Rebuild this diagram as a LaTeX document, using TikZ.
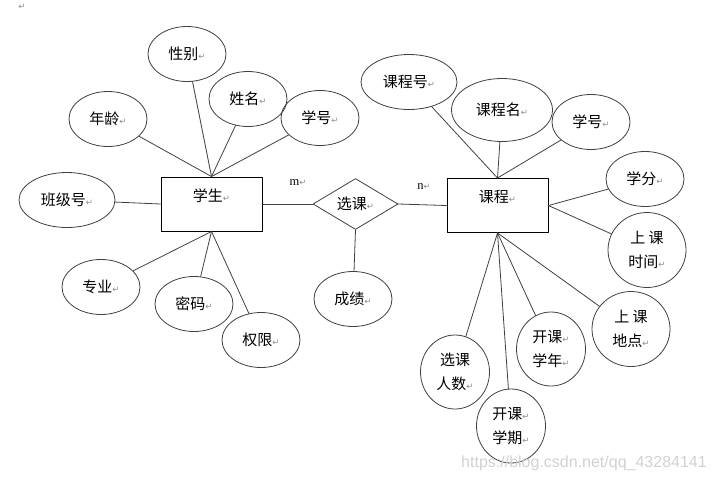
\documentclass[tikz,border=0pt]{standalone}
\usepackage{fontspec}
\newfontfamily\cjk{Noto Sans CJK SC}
\newfontfamily\symb{DejaVu Sans}
\newfontfamily\serifm{Liberation Serif}
\usetikzlibrary{shapes.geometric}
\newcommand{\ret}{{\symb\fontsize{8.5}{8.5}\selectfont\color{black!45}↵}}

\begin{document}
\begin{tikzpicture}[x=1pt, y=-1pt, line cap=round, line join=round,
    attr/.style={ellipse, draw=black!75, line width=0.8pt, inner sep=0pt,
      minimum width=78pt, minimum height=55pt, align=center,
      font=\cjk\fontsize{15}{24}\selectfont},
    ent/.style={rectangle, draw=black, line width=0.9pt, inner sep=0pt,
      minimum width=101pt, minimum height=54pt, text height=11pt, text depth=17pt,
      font=\cjk\fontsize{15}{18}\selectfont},
    rel/.style={diamond, draw=black!75, line width=0.8pt, inner sep=0pt,
      minimum width=85pt, minimum height=51pt, font=\cjk\fontsize{15}{18}\selectfont},
    card/.style={inner sep=0pt, font=\serifm\fontsize{12.5}{12.5}\selectfont},
    every edge/.append style={draw=black!75, line width=0.8pt}] % pixel units
  \useasboundingbox (0,0) rectangle (714,480);
  \node[inner sep=0pt] (mark) at (22,7) {\ret};

  % entities and relation
  \node[ent] (stu) at (211.5,204) {学生\ret};
  \node[ent] (crs) at (497.5,205.5) {课程\ret};
  \node[rel] (sel) at (355.5,204) {选课\ret};
  \node[card] (m) at (298,183) {m\ret};
  \node[card] (n) at (424,187) {n\ret};

  % student attributes
  \node[attr] (sex) at (187,54) {性别\ret};
  \node[attr] (age) at (108,119) {年龄\ret};
  \node[attr] (name) at (248,99) {姓名\ret};
  \node[attr] (sno) at (320,118) {学号\ret};
  \node[attr, minimum width=96pt] (cls) at (67,200) {班级号\ret};
  \node[attr] (major) at (101,287) {专业\ret};
  \node[attr] (pwd) at (194,304) {密码\ret};
  \node[attr] (auth) at (261,340) {权限\ret};

  % relation attribute
  \node[attr] (score) at (353,299) {成绩\ret};

  % course attributes
  \node[attr, minimum width=96pt] (cno) at (409,82) {课程号\ret};
  \node[attr, minimum width=101pt, minimum height=63pt] (cname) at (502,110) {课程名\ret};
  \node[attr] (csno) at (591,122) {学号\ret};
  \node[attr] (credit) at (645,179) {学分\ret};
  \node[attr, minimum height=75pt] (ctime) at (647,250) {上~课\\时间\ret};
  \node[attr, minimum height=75pt] (cplace) at (631,329) {上~课\\地点\ret};
  \node[attr, minimum width=69pt, minimum height=74pt] (cnum) at (455,372) {选课\\人数\ret};
  \node[attr, minimum width=69pt, minimum height=74pt] (cterm) at (511,426) {开课\ret\\学期\ret};
  \node[attr, minimum width=69pt, minimum height=74pt] (cyear) at (551,349) {开课\ret\\学年\ret};

  \path (stu.north) edge (age) edge (sex) edge (name) edge (sno)
  (stu.west) edge (cls)
  (stu.south) edge (major) edge (pwd) edge (auth)
  (stu.east) edge (sel.west)
  (sel.east) edge (crs.west)
  (sel.south) edge (score)
  (crs.north) edge (cno) edge (cname) edge (csno)
  (crs.east) edge (credit) edge (ctime)
  (crs.south) edge (cnum) edge (cterm) edge (cyear) edge (cplace);

  \node[inner sep=0pt, text=black!18, font=\fontspec{Liberation Sans}\fontsize{16}{16}\selectfont]
    (wm) at (584,463) {https://blog.csdn.net/qq\_43284141};
\end{tikzpicture}
\end{document}
